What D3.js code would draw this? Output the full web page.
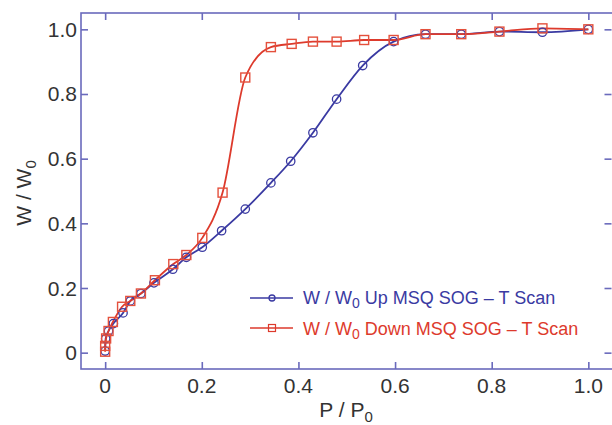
<!DOCTYPE html>
<html><head><meta charset="utf-8">
<script src="https://cdn.jsdelivr.net/npm/d3@7"></script>
<style>body{margin:0;background:#fff}svg{display:block}</style>
</head><body><svg id="c" width="612" height="425"></svg>
<script>
const upX = [0,0.001,0.007,0.017,0.037,0.052,0.074,0.101,0.14,0.168,0.201,0.241,0.29,0.343,0.384,0.43,0.479,0.533,0.597,0.663,0.737,0.816,0.905,1.0];
const upY = [0.005,0.043,0.067,0.09,0.123,0.16,0.183,0.216,0.258,0.295,0.326,0.377,0.444,0.525,0.592,0.68,0.784,0.888,0.962,0.985,0.985,0.993,0.991,1.0];
const downX = [0,0,0.002,0.007,0.016,0.035,0.052,0.074,0.103,0.141,0.168,0.201,0.243,0.29,0.343,0.386,0.43,0.479,0.536,0.597,0.663,0.737,0.816,0.905,1.0];
const downY = [0.003,0.021,0.044,0.067,0.095,0.142,0.16,0.183,0.224,0.274,0.302,0.355,0.495,0.851,0.945,0.955,0.962,0.962,0.967,0.967,0.985,0.985,0.993,1.003,1.0];
const xTicks = [0,0.2,0.4,0.6,0.8,1.0];
const yTicks = [0,0.2,0.4,0.6,0.8,1.0];
const xTickLabels = ["0","0.2","0.4","0.6","0.8","1.0"];
const yTickLabels = ["0","0.2","0.4","0.6","0.8","1.0"];
const upLabel = ["W / W","0"," Up MSQ SOG \u2013 T Scan"];
const downLabel = ["W / W","0"," Down MSQ SOG \u2013 T Scan"];

const svg = d3.select("#c");
const L=81,T=13,R=612,B=369;
const x = d3.scaleLinear().domain([-0.05,1.05]).range([L,R+0.5]);
const y = d3.scaleLinear().domain([-0.0505,1.0505]).range([B,T]);
const frameCol="#6a6abc", blue="#3a3aa2", red="#dd3a2c", txt="#333";
const font="'Liberation Sans', Arial, sans-serif";

// frame
svg.append("rect").attr("x",L).attr("y",T).attr("width",R-L+2).attr("height",B-T)
  .attr("fill","none").attr("stroke",frameCol).attr("stroke-width",1.6);

// axes with inward ticks
const tl=7;
svg.append("g").attr("transform",`translate(0,${B})`).call(d3.axisTop(x).tickValues(xTicks).tickSize(tl).tickFormat(""))
  .call(g=>{g.select(".domain").remove();g.selectAll("line").attr("stroke",frameCol).attr("stroke-width",1.6);});
svg.append("g").attr("transform",`translate(0,${T})`).call(d3.axisBottom(x).tickValues(xTicks).tickSize(tl).tickFormat(""))
  .call(g=>{g.select(".domain").remove();g.selectAll("line").attr("stroke",frameCol).attr("stroke-width",1.6);});
svg.append("g").attr("transform",`translate(${L},0)`).call(d3.axisRight(y).tickValues(yTicks).tickSize(tl).tickFormat(""))
  .call(g=>{g.select(".domain").remove();g.selectAll("line").attr("stroke",frameCol).attr("stroke-width",1.6);});
svg.append("g").attr("transform",`translate(${R-0.5},0)`).call(d3.axisLeft(y).tickValues(yTicks).tickSize(tl).tickFormat(""))
  .call(g=>{g.select(".domain").remove();g.selectAll("line").attr("stroke",frameCol).attr("stroke-width",1.6);});

// tick labels
svg.append("g").selectAll("text").data(xTicks).join("text")
  .attr("x",d=>x(d)).attr("y",393).attr("text-anchor","middle")
  .attr("font-family",font).attr("font-size",21).attr("fill",txt).text((d,i)=>xTickLabels[i]);
svg.append("g").selectAll("text").data(yTicks).join("text")
  .attr("x",77).attr("y",d=>y(d)+7.5).attr("text-anchor","end")
  .attr("font-family",font).attr("font-size",21).attr("fill",txt).text((d,i)=>yTickLabels[i]);

// axis titles
const xt = svg.append("text").attr("x",346).attr("y",417).attr("text-anchor","middle")
  .attr("font-family",font).attr("font-size",21).attr("fill",txt);
xt.append("tspan").text("P / P");
xt.append("tspan").attr("dy",5).attr("font-size",15).text("0");
const yt = svg.append("text").attr("transform","translate(31,193) rotate(-90)").attr("text-anchor","middle")
  .attr("font-family",font).attr("font-size",21).attr("fill",txt);
yt.append("tspan").text("W / W");
yt.append("tspan").attr("dy",5).attr("font-size",15).text("0");

// lines
const line = d3.line().x(d=>x(d[0])).y(d=>y(d[1])).curve(d3.curveMonotoneX);
const upData = upX.map((v,i)=>[v,upY[i]]);
const downData = downX.map((v,i)=>[v,downY[i]]);
svg.append("path").datum(upData).attr("d",line).attr("fill","none").attr("stroke",blue).attr("stroke-width",1.8);
svg.append("path").datum(downData).attr("d",line).attr("fill","none").attr("stroke",red).attr("stroke-width",1.8);

svg.append("g").selectAll("circle").data(upData).join("circle")
  .attr("cx",d=>x(d[0])).attr("cy",d=>y(d[1])).attr("r",4.2)
  .attr("fill","none").attr("stroke",blue).attr("stroke-width",1.3);
svg.append("g").selectAll("rect").data(downData).join("rect")
  .attr("x",d=>x(d[0])-4.5).attr("y",d=>y(d[1])-4.5).attr("width",9).attr("height",9)
  .attr("fill","none").attr("stroke","#e4503c").attr("stroke-width",1.4);

// legend
const lg = svg.append("g");
lg.append("line").attr("x1",250).attr("x2",293).attr("y1",298).attr("y2",298).attr("stroke",blue).attr("stroke-width",1.5);
lg.append("circle").attr("cx",272).attr("cy",298).attr("r",3).attr("fill","none").attr("stroke",blue).attr("stroke-width",1.3);
lg.append("line").attr("x1",250).attr("x2",293).attr("y1",328).attr("y2",328).attr("stroke",red).attr("stroke-width",1.5);
lg.append("rect").attr("x",268.5).attr("y",324.5).attr("width",7).attr("height",7).attr("fill","none").attr("stroke",red).attr("stroke-width",1.2);
function legText(yy,parts,col){
  const t=lg.append("text").attr("x",303).attr("y",yy).attr("font-family",font).attr("font-size",18).attr("fill",col);
  t.append("tspan").text(parts[0]);
  t.append("tspan").attr("dy",4).attr("font-size",14).text(parts[1]);
  t.append("tspan").attr("dy",-4).text(parts[2]);
}
legText(304,upLabel,blue);
legText(334.5,downLabel,red);
</script></body></html>
